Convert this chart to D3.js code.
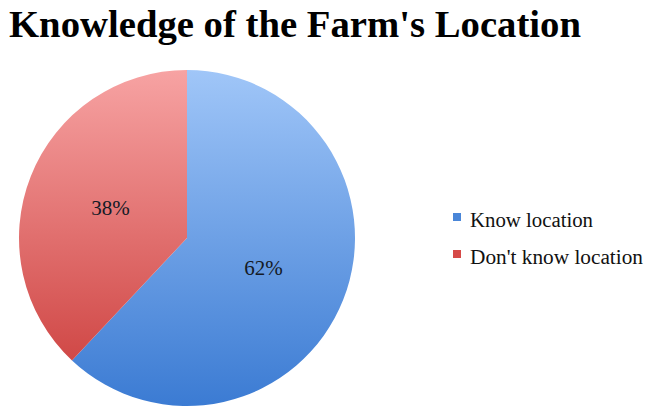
<!DOCTYPE html>
<html><head><meta charset="utf-8">
<script src="https://cdn.jsdelivr.net/npm/d3@7"></script>
<style>html,body{margin:0;padding:0;background:#fff;}svg{display:block;}</style>
</head><body>
<svg id="chart" width="647" height="410"></svg>
<script>
const title = "Knowledge of the Farm's Location";
const categories = ["Know location", "Don't know location"];
const values = [62, 38];
const labels = ["62%", "38%"];

const svg = d3.select("#chart");
const W = 647, H = 410;
svg.append("rect").attr("width", W).attr("height", H).attr("fill", "#fff");

const cx = 187, cy = 238, r = 168;
const defs = svg.append("defs");
const grads = [
  {id: "gBlue", top: "#a0c6f8", bottom: "#3b7bd3"},
  {id: "gRed", top: "#f7a3a3", bottom: "#ca3a38"}
];
grads.forEach(g => {
  const lg = defs.append("linearGradient").attr("id", g.id)
    .attr("gradientUnits", "userSpaceOnUse")
    .attr("x1", 0).attr("y1", -r).attr("x2", 0).attr("y2", r);
  lg.append("stop").attr("offset", "0%").attr("stop-color", g.top);
  lg.append("stop").attr("offset", "100%").attr("stop-color", g.bottom);
});
const color = d3.scaleOrdinal().domain(categories).range(["url(#gBlue)", "url(#gRed)"]);
const swatch = d3.scaleOrdinal().domain(categories).range(["#4a86d8", "#d64a48"]);
const legendWidth = d3.scaleOrdinal().domain(categories).range([123, 173]);

svg.append("text").attr("x", 9).attr("y", 37)
  .attr("font-family", "'Liberation Serif', serif").attr("font-weight", "bold")
  .attr("font-size", 38).attr("fill", "#000")
  .attr("textLength", 572).attr("lengthAdjust", "spacingAndGlyphs")
  .text(title);

const pie = d3.pie().sort(null).value(d => d.v);
const data = pie(categories.map((c, i) => ({c, v: values[i], l: labels[i]})));
const arc = d3.arc().innerRadius(0).outerRadius(r);
const labelArc = d3.arc().innerRadius(r * 0.49).outerRadius(r * 0.49);

const g = svg.append("g").attr("transform", `translate(${cx},${cy})`);
g.selectAll("path").data(data).join("path")
  .attr("d", arc)
  .attr("fill", d => color(d.data.c));

g.selectAll("text.lbl").data(data).join("text").attr("class", "lbl")
  .attr("x", d => labelArc.centroid(d)[0])
  .attr("y", d => labelArc.centroid(d)[1] + 7)
  .attr("text-anchor", "middle")
  .attr("font-family", "'Liberation Serif', serif").attr("font-size", 21)
  .attr("fill", "#141a26")
  .text(d => d.data.l);

const leg = svg.append("g").attr("transform", "translate(453,213)");
const items = leg.selectAll("g").data(categories).join("g")
  .attr("transform", (d, i) => `translate(0,${i * 37})`);
items.append("rect").attr("width", 8).attr("height", 8).attr("fill", d => swatch(d));
items.append("text").attr("x", 17).attr("y", 14)
  .attr("font-family", "'Liberation Serif', serif").attr("font-size", 20)
  .attr("fill", "#111")
  .attr("textLength", d => legendWidth(d)).attr("lengthAdjust", "spacingAndGlyphs")
  .text(d => d);
</script>
</body></html>
